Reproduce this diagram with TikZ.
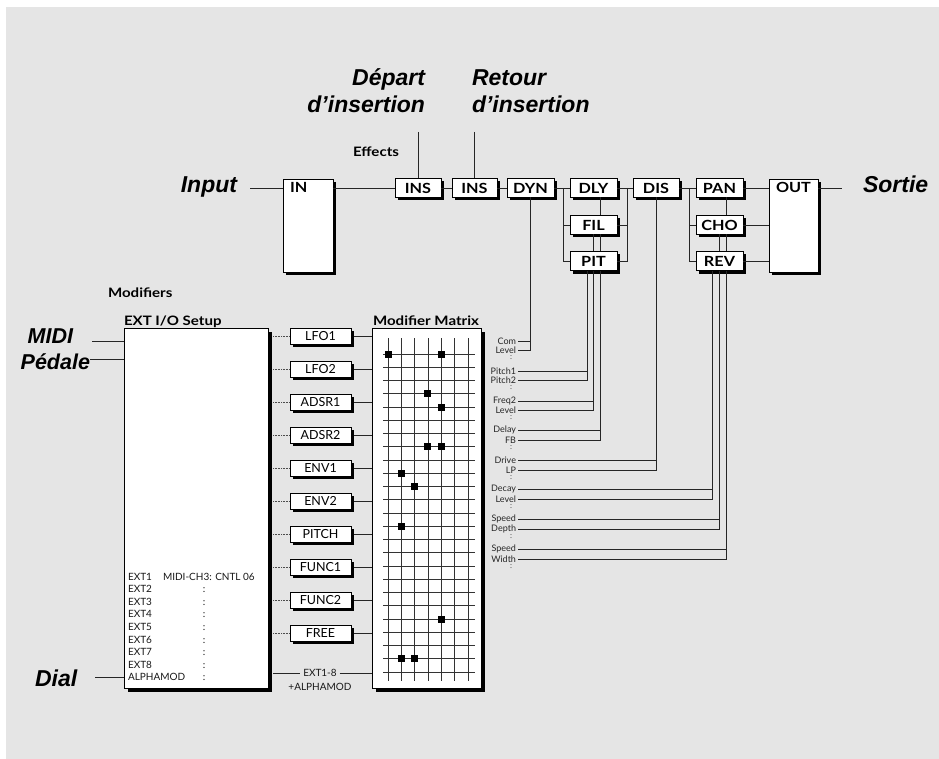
\documentclass[tikz,border=0pt]{standalone}
\usepackage{fontspec}
\setmainfont{Liberation Sans}
\newfontfamily\gill{Lato}
\newfontfamily\gillw{Lato}[FakeStretch=1.16]
\usetikzlibrary{shadows}
\begin{document}
\begin{tikzpicture}[x=1pt,y=-1pt,
  every node/.style={inner sep=0pt,outer sep=0pt},
  conn/.style={draw=black!85,line width=0.9pt},
  dotconn/.style={draw=black!70,line width=0.8pt,dash pattern=on 0.8pt off 0.8pt},
  gridln/.style={draw=black!80,line width=0.8pt},
  bxshadow/.style={general shadow={fill=black,shadow xshift=#1,shadow yshift=-#1}},
  fxbox/.style={draw=black,line width=0.9pt,fill=white,bxshadow=3pt,minimum width=47pt,minimum height=19pt,font=\gillw\bfseries\fontsize{14}{14}\selectfont},
  tallbox/.style={draw=black,line width=0.9pt,fill=white,bxshadow=3pt,minimum width=50pt,minimum height=93pt},
  modbox/.style={draw=black,line width=0.8pt,fill=white,bxshadow=3pt,minimum width=61pt,minimum height=16pt,font=\gill\fontsize{12.5}{12.5}\selectfont},
  bigbox/.style={draw=black,line width=0.9pt,fill=white,bxshadow=4pt},
  biglbl/.style={font=\bfseries\itshape\fontsize{23}{23}\selectfont},
  hdr/.style={font=\gillw\bfseries\fontsize{13}{13}\selectfont,anchor=base west},
  boxlbl/.style={font=\gillw\bfseries\fontsize{14}{14}\selectfont},
  plbl/.style={font=\gill\fontsize{9}{9}\selectfont,anchor=east,inner xsep=2pt,text=black!85},
  pdots/.style={font=\gill\fontsize{8}{8}\selectfont,text=black!70},
  exttxt/.style={font=\gill\fontsize{10}{10}\selectfont,anchor=base west,text=black!90},
]
\useasboundingbox (0,0) rectangle (939,759);
\fill[white] (0,0) rectangle (939,759);
\fill[black!10] (6,7) rectangle (939,759);

% ---------- effects chain ----------
\node[tallbox] (in) at (308,225.5) {};
\node[boxlbl,anchor=base west] (inlbl) at (290,193) {IN};
\node[fxbox,minimum width=46pt] (ins1) at (418,188) {INS};
\node[fxbox,minimum width=45pt] (ins2) at (474.5,188) {INS};
\node[fxbox] (dyn) at (530.5,188) {DYN};
\node[fxbox] (dly) at (593.5,188) {DLY};
\node[fxbox] (fil) at (593.5,225) {FIL};
\node[fxbox] (pit) at (593.5,261) {PIT};
\node[fxbox,minimum width=46pt] (dis) at (656,188) {DIS};
\node[fxbox] (pan) at (719.5,188) {PAN};
\node[fxbox] (cho) at (719.5,225) {CHO};
\node[fxbox] (rev) at (719.5,261) {REV};
\node[tallbox,minimum width=49pt] (out) at (793.5,225.5) {};
\node[boxlbl,anchor=base] (outlbl) at (793.5,193) {OUT};

\node[biglbl,anchor=base east] (input) at (237,193) {Input};
\node[biglbl,anchor=base west] (sortie) at (863,193) {Sortie};
\node[biglbl,anchor=base east] (dep1) at (425,86) {Départ};
\node[biglbl,anchor=base east] (dep2) at (425,113) {d’insertion};
\node[biglbl,anchor=base west] (ret1) at (472,86) {Retour};
\node[biglbl,anchor=base west] (ret2) at (472,113) {d’insertion};
\node[hdr] (effects) at (353,157) {Effects};

\coordinate (inL) at (250,188);
\coordinate (outR) at (842,188);
\coordinate (depB) at (418,132);
\coordinate (retB) at (474.5,132);
\coordinate (brA) at (563,188);
\coordinate (brB) at (627,188);
\coordinate (brC) at (689,188);

\draw[conn] (inL) -- (inL -| in.west);
\draw[conn] (in.east |- ins1.west) -- (ins1.west);
\draw[conn] (ins1.east) -- (ins2.west);
\draw[conn] (ins2.east) -- (dyn.west);
\draw[conn] (dyn.east) -- (dly.west);
\draw[conn] (depB) -- (ins1.north);
\draw[conn] (retB) -- (ins2.north);
\draw[conn] (brA) |- (pit.west);
\draw[conn] (fil.west) -- (fil.west -| brA);
\draw[conn] (dly.east) -- (dis.west);
\draw[conn] (brB) |- (pit.east);
\draw[conn] (fil.east) -- (fil.east -| brB);
\draw[conn] (dis.east) -- (pan.west);
\draw[conn] (brC) |- (rev.west);
\draw[conn] (cho.west) -- (cho.west -| brC);
\draw[conn] (pan.east) -- (pan.east -| out.west);
\draw[conn] (cho.east) -- (cho.east -| out.west);
\draw[conn] (rev.east) -- (rev.east -| out.west);
\draw[conn] (out.east |- outR) -- (outR);
\draw[conn] ([xshift=6.5pt]dly.south) -- ([xshift=6.5pt]fil.north);
\draw[conn] (fil.south) -- (pit.north);
\draw[conn] ([xshift=6.5pt]fil.south) -- ([xshift=6.5pt]pit.north);
\draw[conn] ([xshift=6.5pt]pan.south) -- ([xshift=6.5pt]cho.north);
\draw[conn] (cho.south) -- (rev.north);
\draw[conn] ([xshift=6.5pt]cho.south) -- ([xshift=6.5pt]rev.north);

% ---------- parameter labels ----------
\node[plbl] (lCom) at (518,341) {Com};
\node[plbl] (lLev1) at (518,350) {Level};
\node[pdots] (d1) at (511,358) {:};
\node[plbl] (lPit1) at (518,371) {Pitch1};
\node[plbl] (lPit2) at (518,380) {Pitch2};
\node[pdots] (d2) at (511,388) {:};
\node[plbl] (lFreq) at (518,401) {Freq2};
\node[plbl] (lLev2) at (518,410) {Level};
\node[pdots] (d3) at (511,418) {:};
\node[plbl] (lDel) at (518,430) {Delay};
\node[plbl] (lFB) at (518,440) {FB};
\node[pdots] (d4) at (511,448) {:};
\node[plbl] (lDrv) at (518,460) {Drive};
\node[plbl] (lLP) at (518,470) {LP};
\node[pdots] (d5) at (511,478) {:};
\node[plbl] (lDec) at (518,489) {Decay};
\node[plbl] (lLev3) at (518,499) {Level};
\node[pdots] (d6) at (511,507) {:};
\node[plbl] (lSp1) at (518,519) {Speed};
\node[plbl] (lDep) at (518,529) {Depth};
\node[pdots] (d7) at (511,537) {:};
\node[plbl] (lSp2) at (518,549) {Speed};
\node[plbl] (lWid) at (518,559) {Width};
\node[pdots] (d8) at (511,567) {:};

\coordinate (pitA) at ([xshift=-6.5pt]pit.south);
\coordinate (pitB) at (pit.south);
\coordinate (pitC) at ([xshift=6.5pt]pit.south);
\coordinate (revA) at ([xshift=-7pt]rev.south);
\coordinate (revB) at (rev.south);
\coordinate (revC) at ([xshift=6.5pt]rev.south);

\draw[conn] (dyn.south) |- (lLev1.east);
\draw[conn] (lCom.east) -- (lCom.east -| dyn.south);
\draw[conn] (pitA) |- (lPit2.east);
\draw[conn] (lPit1.east) -- (lPit1.east -| pitA);
\draw[conn] (pitB) |- (lLev2.east);
\draw[conn] (lFreq.east) -- (lFreq.east -| pitB);
\draw[conn] (pitC) |- (lFB.east);
\draw[conn] (lDel.east) -- (lDel.east -| pitC);
\draw[conn] (dis.south) |- (lLP.east);
\draw[conn] (lDrv.east) -- (lDrv.east -| dis.south);
\draw[conn] (revA) |- (lLev3.east);
\draw[conn] (lDec.east) -- (lDec.east -| revA);
\draw[conn] (revB) |- (lDep.east);
\draw[conn] (lSp1.east) -- (lSp1.east -| revB);
\draw[conn] (revC) |- (lWid.east);
\draw[conn] (lSp2.east) -- (lSp2.east -| revC);

% ---------- modifiers ----------
\node[hdr] (modifiers) at (108,298) {Modifiers};
\node[hdr] (extsetup) at (124,325) {EXT I/O Setup};
\node[hdr] (mtxlbl) at (373,325) {Modifier Matrix};
\node[bigbox,minimum width=144pt,minimum height=360pt] (ext) at (196,508) {};
\node[bigbox,minimum width=109pt,minimum height=360pt] (mtx) at (426.5,508) {};

\node[biglbl,anchor=base east,font=\bfseries\itshape\fontsize{21.5}{21.5}\selectfont] (midi) at (73,343) {MIDI};
\node[biglbl,anchor=base east,font=\bfseries\itshape\fontsize{21.5}{21.5}\selectfont] (pedale) at (90,369) {Pédale};
\node[biglbl,anchor=base west] (dial) at (35,686) {Dial};
\coordinate (midiL) at (92,341);
\coordinate (pedL) at (90,359);
\coordinate (dialL) at (95,677);
\draw[conn] (midiL) -- (midiL -| ext.west);
\draw[conn] (pedL) -- (pedL -| ext.west);
\draw[conn] (dialL) -- (dialL -| ext.west);

\foreach \n/\t [count=\k from 0] in {m1/LFO1,m2/LFO2,m3/ADSR1,m4/ADSR2,m5/ENV1,m6/ENV2,m7/PITCH,m8/FUNC1,m9/FUNC2,m10/FREE}{
  \node[modbox] (\n) at (320.5,{336+33*\k}) {\t};
  \draw[dotconn] ([xshift=5pt]\n.west -| ext.east) -- (\n.west);
  \draw[conn] ([xshift=3pt]\n.east) -- (\n.east -| mtx.west);
}

\node[font=\gill\fontsize{10}{10}\selectfont,text=black!90,inner xsep=3pt] (ext18) at (320,673) {EXT1-8};
\node[font=\gill\fontsize{10}{10}\selectfont,text=black!90,anchor=base] (alpha) at (320,690) {+ALPHAMOD};
\draw[conn] ([xshift=5pt]ext.east |- ext18.west) -- (ext18.west);
\draw[conn] (ext18.east) -- (ext18.east -| mtx.west);

% EXT text
\node[exttxt] (e1) at (128,580) {EXT1};
\node[exttxt] (e1v) at (163,580) {MIDI-CH3: CNTL 06};
\foreach \t [count=\k] in {EXT2,EXT3,EXT4,EXT5,EXT6,EXT7,EXT8,ALPHAMOD}{
  \node[exttxt] (e\k) at (128,{580+12.6*\k}) {\t};
  \node[exttxt,anchor=base] (c\k) at (204,{580+12.6*\k}) {:};
}

% matrix grid
\foreach \c in {0,...,6}
  \draw[gridln] ({388+13.33*\c},338) -- ({388+13.33*\c},681);
\foreach \r in {0,...,24}
  \draw[gridln] (383,{354+13.25*\r}) -- (475,{354+13.25*\r});
\foreach \c/\r in {0/0,4/0,3/3,4/4,3/7,4/7,1/9,2/10,1/13,4/20,1/23,2/23}
  \fill[black] ({388+13.33*\c-3.5},{354+13.25*\r-3.5}) rectangle +(7,7);
\end{tikzpicture}
\end{document}
